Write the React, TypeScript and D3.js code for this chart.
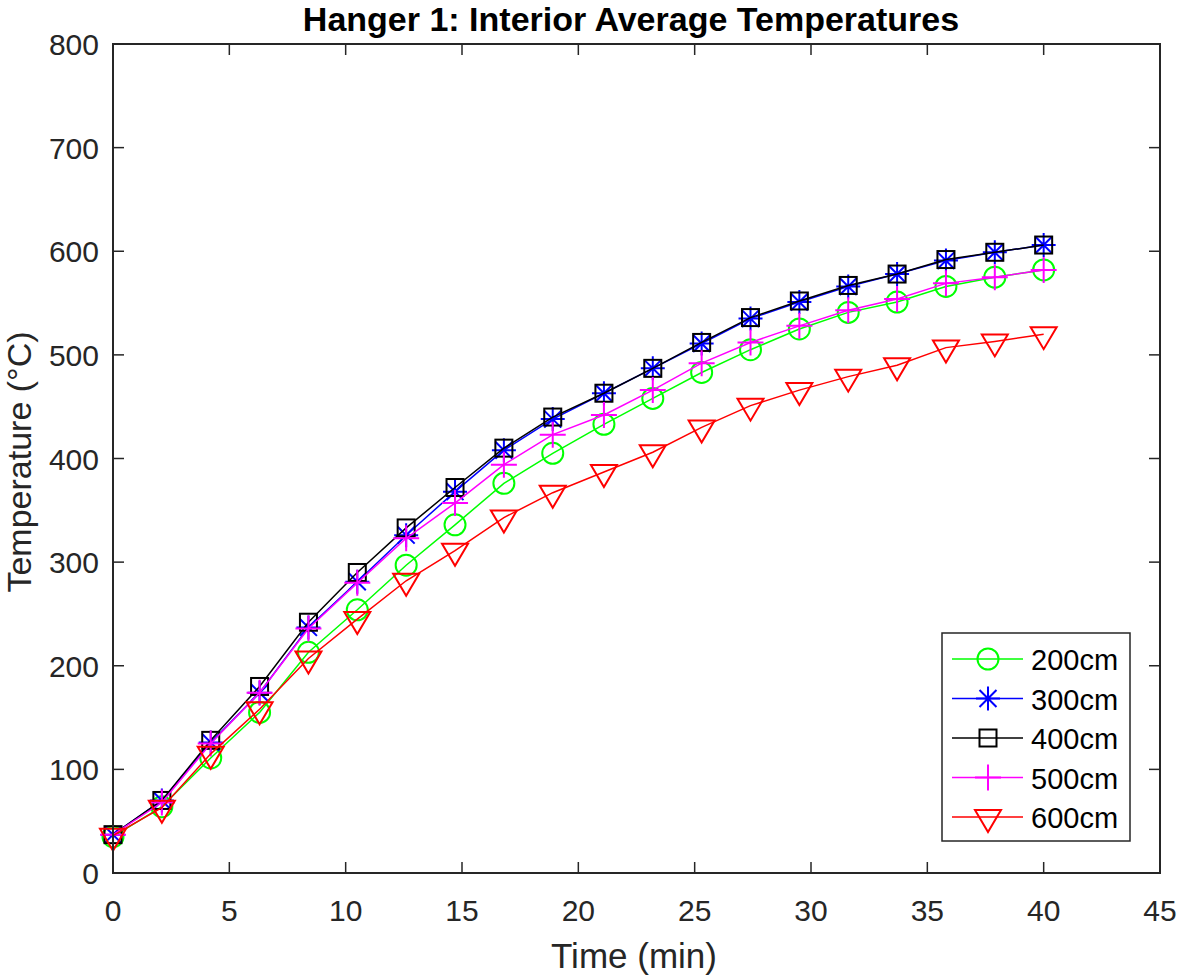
import { useRef, useEffect } from 'react'
import * as d3 from 'd3'

// time (min)
const times: number[] = [0, 2.1, 4.2, 6.3, 8.4, 10.5, 12.6, 14.7, 16.8, 18.9, 21.1, 23.2, 25.3, 27.4, 29.5, 31.6, 33.7, 35.8, 37.9, 40]

const t200: number[] = [35, 64, 111, 155, 213, 254, 297, 336, 376, 405, 433, 458, 483, 505, 525, 541, 551, 566, 575, 582]
const t300: number[] = [37, 70, 126, 174, 237, 281, 326, 368, 408, 438, 463, 487, 511, 535, 551, 566, 578, 591, 599, 606]
const t400: number[] = [37, 70, 128, 180, 242, 290, 333, 372, 410, 440, 463, 487, 512, 536, 552, 567, 578, 592, 599, 606]
const t500: number[] = [37, 68, 125, 174, 236, 280, 323, 357, 394, 423, 442, 466, 492, 512, 528, 543, 554, 569, 575, 582]
const t600: number[] = [36, 63, 115, 158, 207, 245, 282, 311, 343, 367, 387, 406, 430, 451, 466, 479, 490, 507, 513, 520]

const labels: string[] = ['200cm', '300cm', '400cm', '500cm', '600cm']
const colors: string[] = ['#00ff00', '#0000ff', '#000000', '#ff00ff', '#ff0000']
const markers: string[] = ['circle', 'star', 'square', 'plus', 'triangle']

const xTicks: number[] = [0, 5, 10, 15, 20, 25, 30, 35, 40, 45]
const yTicks: number[] = [0, 100, 200, 300, 400, 500, 600, 700, 800]

const W = 1181
const H = 979
const left = 113
const right = 1160
const top = 44
const bottom = 873
const axisColor = '#262626'
const font = '"Liberation Sans", Arial, Helvetica, sans-serif'

function drawMarker(g: any, kind: string, x: number, y: number, color: string) {
  const sw = 2
  if (kind === 'circle') {
    g.append('circle').attr('cx', x).attr('cy', y).attr('r', 10.5)
      .attr('fill', 'none').attr('stroke', color).attr('stroke-width', sw)
  } else if (kind === 'square') {
    g.append('rect').attr('x', x - 8.5).attr('y', y - 8.5).attr('width', 17).attr('height', 17)
      .attr('fill', 'none').attr('stroke', color).attr('stroke-width', sw)
  } else if (kind === 'plus') {
    g.append('path').attr('d', `M${x - 13},${y}H${x + 13}M${x},${y - 13}V${y + 13}`)
      .attr('stroke', color).attr('stroke-width', sw)
  } else if (kind === 'star') {
    const r = 12
    const d = r * 0.7071
    g.append('path')
      .attr('d', `M${x - r},${y}H${x + r}M${x},${y - r}V${y + r}M${x - d},${y - d}L${x + d},${y + d}M${x - d},${y + d}L${x + d},${y - d}`)
      .attr('stroke', color).attr('stroke-width', sw)
  } else if (kind === 'triangle') {
    g.append('path')
      .attr('d', `M${x - 13},${y - 7}L${x + 13},${y - 7}L${x},${y + 15}Z`)
      .attr('fill', 'none').attr('stroke', color).attr('stroke-width', sw)
  }
}

export default function App() {
  const svgRef = useRef(null)

  useEffect(() => {
    const svg = d3.select(svgRef.current)
    svg.selectAll('*').remove()

    const x = d3.scaleLinear().domain([0, 45]).range([left, right])
    const y = d3.scaleLinear().domain([0, 800]).range([bottom, top])

    svg.append('rect').attr('width', W).attr('height', H).attr('fill', 'white')

    // title
    svg.append('text')
      .attr('x', 631).attr('y', 31)
      .attr('text-anchor', 'middle')
      .attr('font-family', font).attr('font-weight', 'bold').attr('font-size', 34)
      .attr('fill', '#000')
      .text('Hanger 1: Interior Average Temperatures')

    // series
    const series = [t200, t300, t400, t500, t600]
    const line = d3.line<number>()
      .x((d, i) => x(times[i]))
      .y(d => y(d))

    series.forEach((vals, k) => {
      const g = svg.append('g')
      g.append('path').attr('d', line(vals))
        .attr('fill', 'none').attr('stroke', colors[k]).attr('stroke-width', 1.5)
      vals.forEach((v, i) => drawMarker(g, markers[k], x(times[i]), y(v), colors[k]))
    })

    // axes box
    const ax = svg.append('g')
    ax.append('rect').attr('x', left).attr('y', top)
      .attr('width', right - left).attr('height', bottom - top)
      .attr('fill', 'none').attr('stroke', axisColor).attr('stroke-width', 2)

    const tl = 11
    xTicks.forEach(t => {
      ax.append('line').attr('x1', x(t)).attr('x2', x(t)).attr('y1', bottom).attr('y2', bottom - tl)
        .attr('stroke', axisColor).attr('stroke-width', 1.5)
      ax.append('line').attr('x1', x(t)).attr('x2', x(t)).attr('y1', top).attr('y2', top + tl)
        .attr('stroke', axisColor).attr('stroke-width', 1.5)
      ax.append('text').attr('x', x(t)).attr('y', 921)
        .attr('text-anchor', 'middle').attr('font-family', font).attr('font-size', 30)
        .attr('fill', axisColor).text(t)
    })
    yTicks.forEach(t => {
      ax.append('line').attr('x1', left).attr('x2', left + tl).attr('y1', y(t)).attr('y2', y(t))
        .attr('stroke', axisColor).attr('stroke-width', 1.5)
      ax.append('line').attr('x1', right).attr('x2', right - tl).attr('y1', y(t)).attr('y2', y(t))
        .attr('stroke', axisColor).attr('stroke-width', 1.5)
      ax.append('text').attr('x', 99).attr('y', y(t) + 11)
        .attr('text-anchor', 'end').attr('font-family', font).attr('font-size', 30)
        .attr('fill', axisColor).text(t)
    })

    // axis labels
    svg.append('text')
      .attr('x', 634).attr('y', 968)
      .attr('text-anchor', 'middle').attr('font-family', font).attr('font-size', 35)
      .attr('fill', axisColor).text('Time (min)')
    svg.append('text')
      .attr('transform', `translate(31,462) rotate(-90)`)
      .attr('text-anchor', 'middle').attr('font-family', font).attr('font-size', 34)
      .attr('fill', axisColor).text('Temperature (°C)')

    // legend
    const lg = svg.append('g')
    lg.append('rect').attr('x', 942).attr('y', 633).attr('width', 188).attr('height', 208)
      .attr('fill', 'white').attr('stroke', axisColor).attr('stroke-width', 1.5)
    labels.forEach((lab, k) => {
      const ly = 659 + k * 39.5
      lg.append('line').attr('x1', 952).attr('x2', 1023).attr('y1', ly).attr('y2', ly)
        .attr('stroke', colors[k]).attr('stroke-width', 1.5)
      drawMarker(lg, markers[k], 988, ly, colors[k])
      lg.append('text').attr('x', 1031).attr('y', ly + 11)
        .attr('font-family', font).attr('font-size', 29).attr('fill', '#000').text(lab)
    })
  }, [])

  return (
    <svg ref={svgRef} width={W} height={H} style={{ position: 'absolute', left: 0, top: 0 }} />
  )
}
